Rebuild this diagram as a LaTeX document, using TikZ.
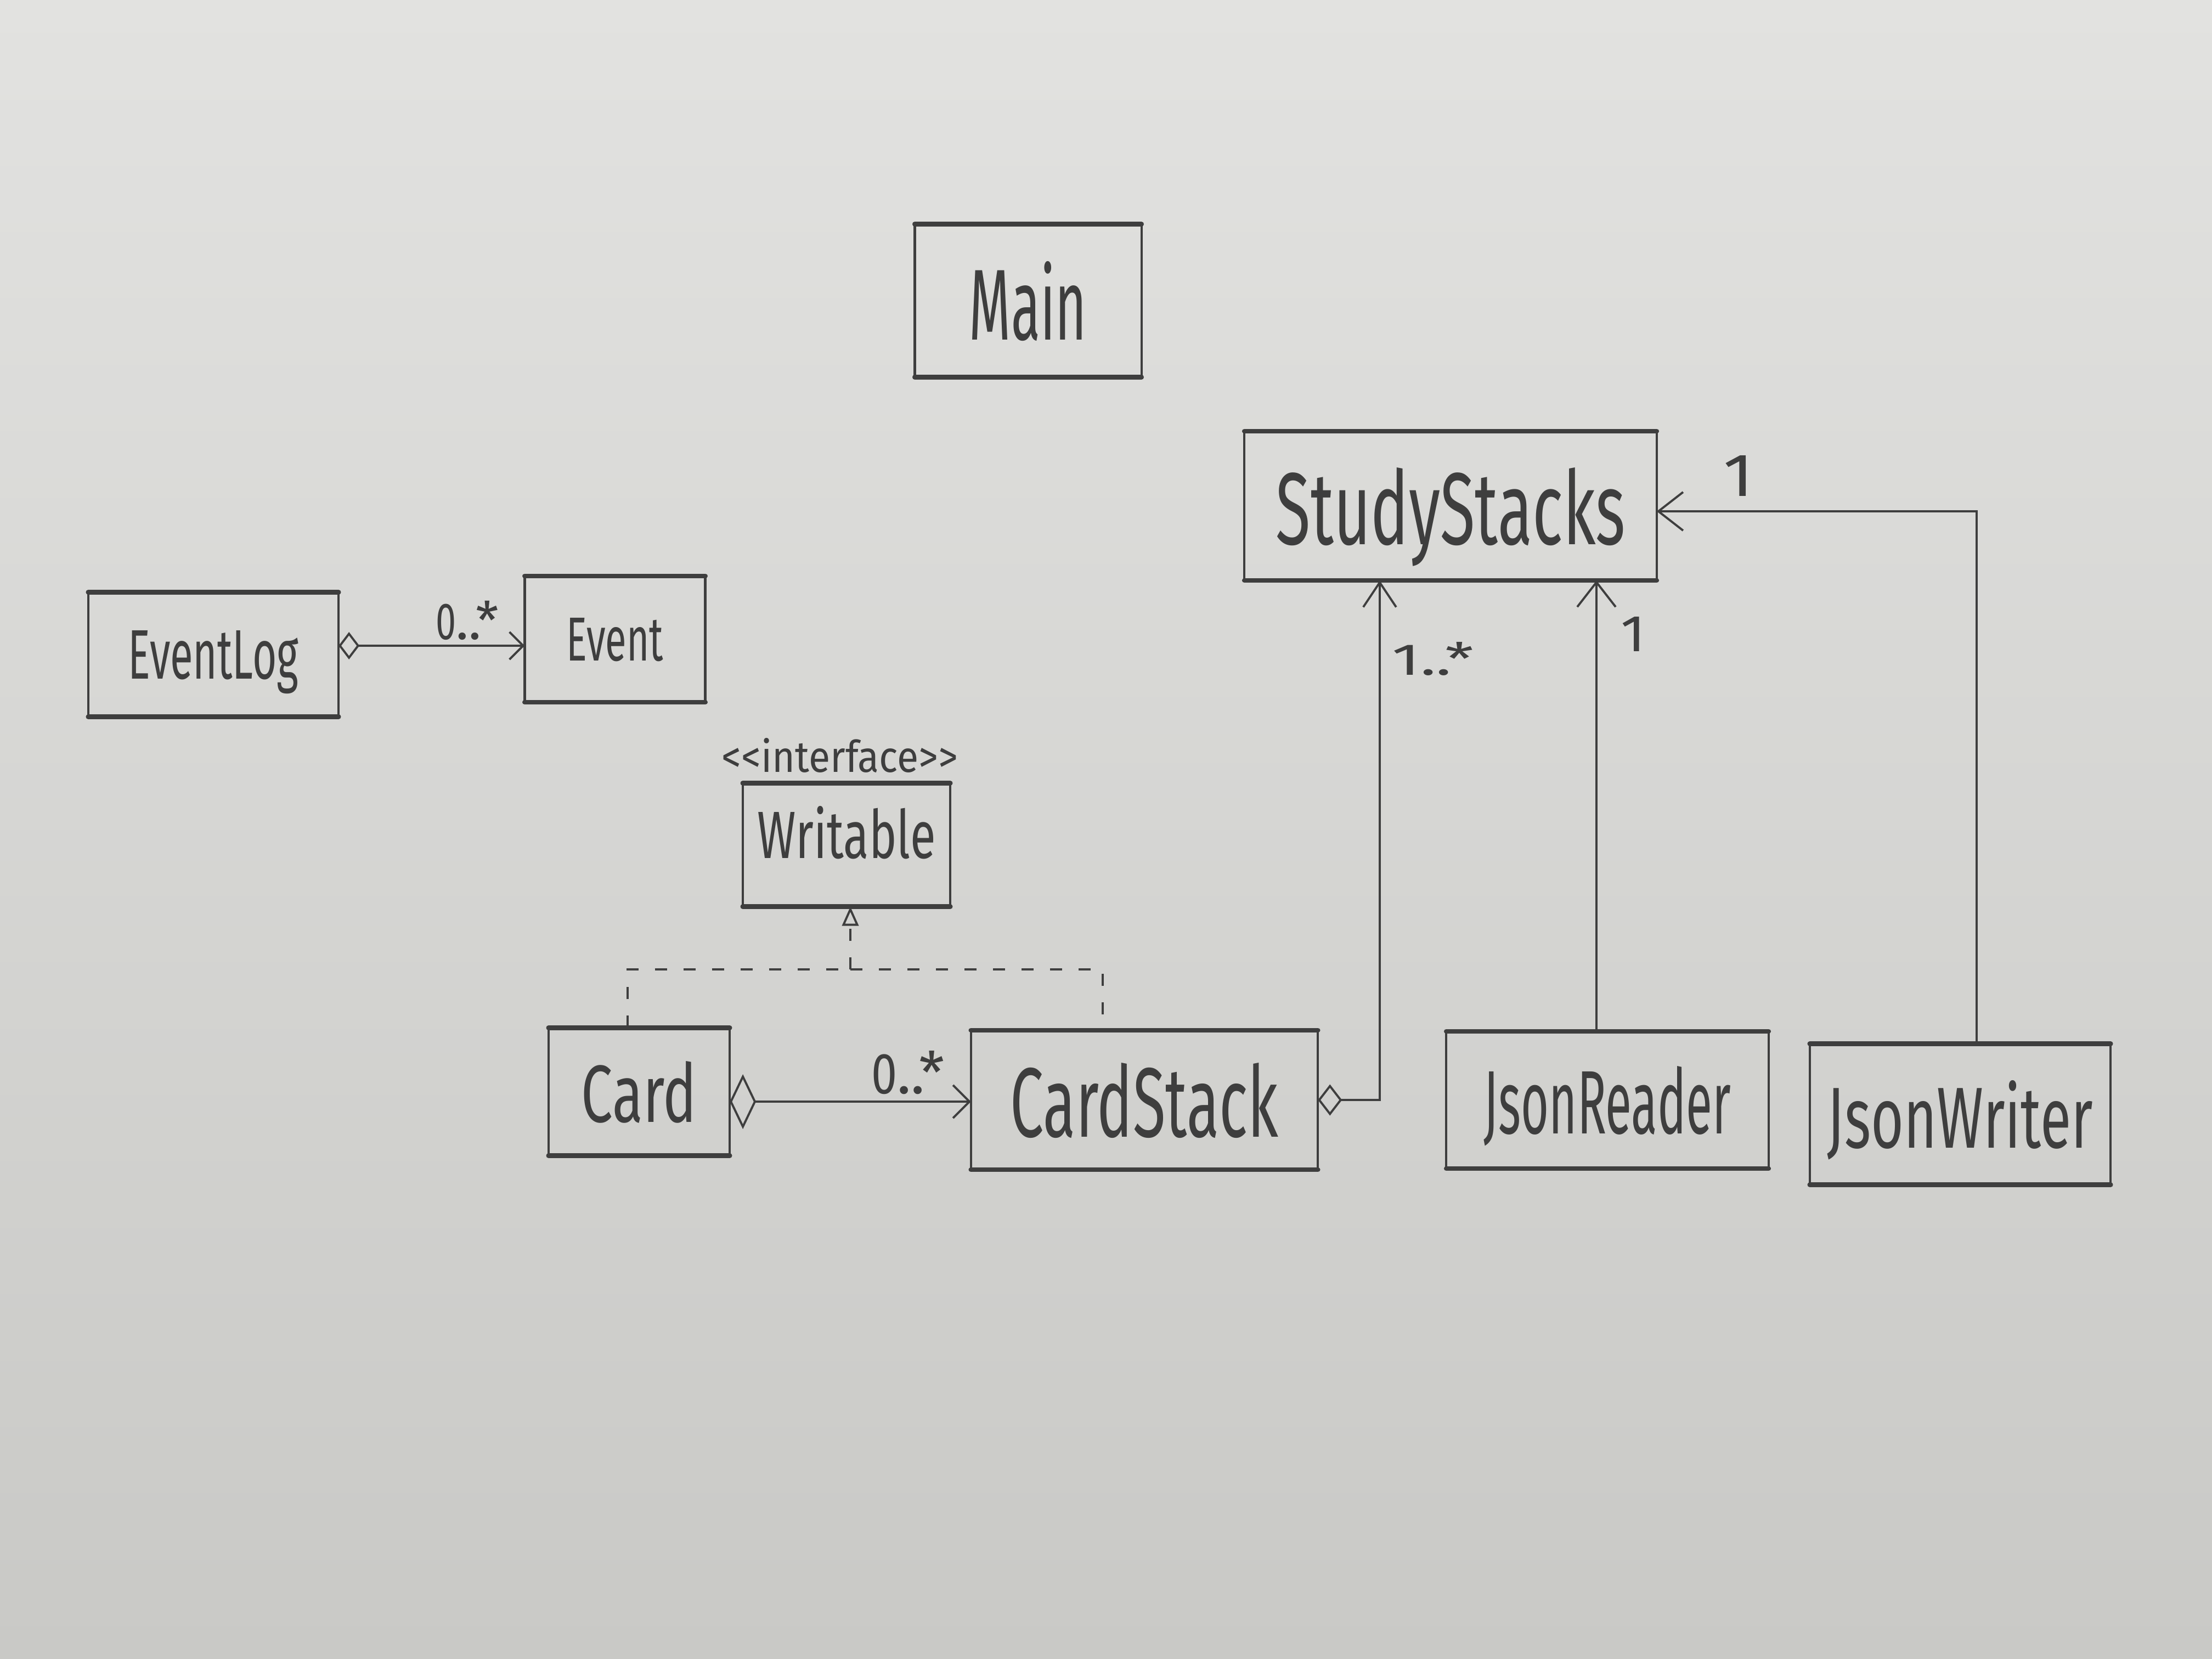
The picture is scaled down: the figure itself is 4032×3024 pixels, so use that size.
\documentclass[tikz,border=0pt]{standalone}
\usepackage{fontspec}
\setmainfont{Fira Sans}[Numbers=Lining]
\usetikzlibrary{arrows.meta}
\definecolor{pencil}{RGB}{62,62,62}
\definecolor{papertop}{RGB}{226,226,224}
\definecolor{paperbot}{RGB}{201,201,198}
\newcommand\hw[3]{\resizebox{#1}{#2}{#3}}
\begin{document}
\begin{tikzpicture}[x=0.01cm,y=-0.01cm,
  classbox/.style={draw=pencil, line width=1.2pt, inner sep=0pt, outer sep=0pt, text=pencil, text depth=0pt},
  boxedge/.style={draw=pencil, line width=2.5pt, line cap=round},
  lbl/.style={text=pencil, inner sep=0pt, text depth=0pt},
  conn/.style={draw=pencil, line width=1.1pt},
  assoc/.style={conn, {Diamond[open,length=0.48cm,width=1.0cm]}-{Straight Barb[length=0.3cm,width=0.6cm]}},
  assocsmall/.style={conn, {Diamond[open,length=0.38cm,width=0.5cm]}-{Straight Barb[length=0.25cm,width=0.5cm]}},
  assocup/.style={conn, {Diamond[open,length=0.44cm,width=0.57cm]}-{Straight Barb[length=0.45cm,width=0.6cm]}},
  dep/.style={conn, -{Straight Barb[length=0.45cm,width=0.7cm]}},
  real/.style={conn, dash pattern=on 0.22cm off 0.3cm}]
\shade[top color=papertop,bottom color=paperbot] (0,0) rectangle (4032,3024);
\useasboundingbox (0,0) rectangle (4032,3024);

% classes
\node[classbox, minimum width=4.13cm, minimum height=2.79cm] (main) at (1874,548) {\hw{2.14cm}{1.43cm}{Main}};
\node[classbox, minimum width=7.51cm, minimum height=2.72cm] (studystacks) at (2644,922) {\hw{6.36cm}{1.40cm}{StudyStacks}};
\node[classbox, minimum width=4.56cm, minimum height=2.27cm] (eventlog) at (389,1193) {\hw{3.10cm}{0.88cm}{EventLog}};
\node[classbox, minimum width=3.29cm, minimum height=2.30cm] (event) at (1121,1165) {\hw{1.76cm}{0.78cm}{Event}};
\node[classbox, minimum width=3.78cm, minimum height=2.25cm, text depth=0.46cm] (writable) at (1543,1540) {\hw{3.25cm}{0.95cm}{Writable}};
\node[lbl] (iface) at (1531,1376) {\hw{4.30cm}{0.62cm}{{<}{<}interface{>}{>}}};
\node[classbox, minimum width=3.30cm, minimum height=2.33cm] (card) at (1165,1990) {\hw{2.10cm}{1.11cm}{Card}};
\node[classbox, minimum width=6.32cm, minimum height=2.54cm] (cardstack) at (2086,2005) {\hw{4.88cm}{1.35cm}{CardStack}};
\node[classbox, minimum width=5.87cm, minimum height=2.50cm] (jsonreader) at (2930,2005) {\hw{4.50cm}{1.23cm}{JsonReader}};
\node[classbox, minimum width=5.48cm, minimum height=2.57cm] (jsonwriter) at (3573,2031) {\hw{4.84cm}{1.23cm}{JsonWriter}};

% heavier top and bottom strokes of the boxes
\foreach \n in {main,studystacks,eventlog,event,writable,card,cardstack,jsonreader,jsonwriter}
  \draw[boxedge] (\n.north west) -- (\n.north east) (\n.south west) -- (\n.south east);

% multiplicities
\node[lbl, font=\fontsize{27pt}{27pt}\selectfont] (m1) at (852,1130) {\scalebox{0.7}[1]{0}..*};
\node[lbl, font=\fontsize{30pt}{30pt}\selectfont] (m2) at (1655,1954) {\scalebox{0.8}[1]{0}..*};
\node[lbl] (m3) at (2612,1200) {\hw{1.48cm}{0.60cm}{1..*}};
\node[lbl] (m4) at (2977,1156) {\hw{0.45cm}{0.63cm}{1}};
\node[lbl] (m5) at (3169,867) {\hw{0.55cm}{0.74cm}{1}};

% connectors
\draw[assocsmall] ([yshift=0.16cm]eventlog.east) -- ([yshift=0.16cm]eventlog.east -| event.west);
\draw[assoc] ([yshift=-0.18cm]card.east) -- ([yshift=-0.18cm]card.east -| cardstack.west);
\draw[assocup] (cardstack.east) -| ([xshift=-1.29cm]studystacks.south);
\draw[dep] ([xshift=-0.2cm]jsonreader.north) -- ([xshift=-0.2cm]jsonreader.north |- studystacks.south);
\draw[dep] ([xshift=0.3cm]jsonwriter.north) |- ([yshift=-0.1cm]studystacks.east);

% realization
\coordinate (junc) at (1550,1767);
\draw[real] ([xshift=-0.21cm]card.north) |- (junc);
\draw[real] (junc) -| ([xshift=-0.76cm]cardstack.north);
\draw[real, -{Triangle[open,length=0.35cm,width=0.3cm]}] (junc) -- (junc |- writable.south);
\end{tikzpicture}
\end{document}
